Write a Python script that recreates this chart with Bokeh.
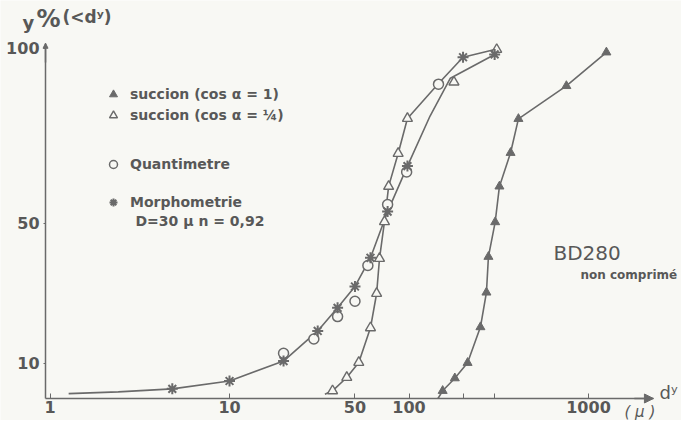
from bokeh.plotting import figure
from bokeh.models import (Range1d, FixedTicker, PrintfTickFormatter, Legend, LegendItem,
                          Label, Arrow, NormalHead)
from bokeh.embed import file_html
from bokeh.resources import INLINE

# ---------------- data ----------------
# succion (cos a = 1) : filled triangles
succ1_x = [154, 180, 212, 250, 270, 277, 302, 319, 368, 407, 753, 1258]
succ1_y = [2.2, 5.8, 10.2, 20.4, 30.3, 40.5, 50.4, 60.6, 70.2, 79.9, 89.3, 98.9]
# succion (cos a = 1/4) : open triangles
succ4_x = [37.5, 45, 52.5, 61, 66, 68.5, 73, 77, 87, 98, 178, 308]
succ4_y = [2.2, 6.0, 10.3, 20.2, 30.0, 40.0, 50.5, 60.6, 70.0, 80.0, 90.4, 99.7]
# Quantimetre : open circles
quant_x = [20, 29.5, 40, 50, 59, 76, 97, 146]
quant_y = [12.9, 17.0, 23.4, 27.8, 38.0, 55.4, 64.7, 89.8]
# Morphometrie : stars
morph_x = [4.8, 10, 20, 31, 40, 50, 61, 76, 98, 200, 300]
morph_y = [2.75, 5.0, 10.7, 19.3, 25.9, 32.0, 40.2, 53.4, 66.4, 97.5, 98.3]

# drawn curves (as traced on the picture)
curve1_x = [145] + succ1_x
curve1_y = [0.0] + succ1_y
curve4_x = [34, 37.5, 45, 52.5, 61, 66, 68.5, 73, 77, 87, 98, 146, 200, 305]
curve4_y = [1.2, 2.2, 6.0, 10.3, 20.2, 30.0, 40.0, 50.5, 60.6, 70.0, 80.0, 90.0, 97.5, 99.8]
curvem_x = [1.27, 2.4, 4.8, 10, 20, 31, 40, 50, 61, 76, 98, 131, 170, 300]
curvem_y = [1.4, 1.9, 2.75, 5.0, 10.7, 19.3, 25.9, 32.0, 40.2, 53.4, 66.4, 80.7, 91.5, 98.3]

x_ticks = [1, 10, 50, 100, 1000]
x_minor = [200, 300]
y_ticks = [10, 50, 100]

# ---------------- style ----------------
BG = "#f8f8f4"
INK = "#6a6a6a"
TXT = "#585858"
FONT = "DejaVu Sans"

X_LO, X_HI = 0.5298, 3297       # whole figure is the frame
Y_LO, Y_HI = -6.286, 113.71
X_AX, X_END = 0.9439, 2300      # where the axes start / end
Y_END = 101.5

p = figure(width=681, height=420, x_axis_type="log",
           x_range=Range1d(X_LO, X_HI), y_range=Range1d(Y_LO, Y_HI),
           output_backend="svg", toolbar_location=None,
           min_border_left=0, min_border_right=0, min_border_top=0, min_border_bottom=0,
           background_fill_color=BG, border_fill_color=BG, outline_line_color=None)
p.grid.visible = False

xa = p.xaxis[0]
xa.fixed_location = 0
xa.bounds = (X_AX, X_END)
xa.ticker = FixedTicker(ticks=x_ticks, minor_ticks=x_minor)
xa.formatter = PrintfTickFormatter(format="%d")
xa.axis_line_color = INK
xa.axis_line_width = 1.5
xa.major_tick_in = 5
xa.major_tick_out = 0
xa.minor_tick_in = 5
xa.minor_tick_out = 0
xa.major_tick_line_color = INK
xa.minor_tick_line_color = INK
xa.major_label_standoff = 3
xa.major_label_text_font = FONT
xa.major_label_text_font_size = "16px"
xa.major_label_text_font_style = "bold"
xa.major_label_text_color = TXT

ya = p.yaxis[0]
ya.fixed_location = X_AX
ya.ticker = FixedTicker(ticks=y_ticks, minor_ticks=[])
ya.bounds = (0, Y_END)
ya.axis_line_color = INK
ya.axis_line_width = 1.5
ya.major_tick_in = 0
ya.major_tick_out = 2
ya.major_tick_line_color = INK
ya.major_label_standoff = 4
ya.major_label_text_font = FONT
ya.major_label_text_font_size = "16px"
ya.major_label_text_font_style = "bold"
ya.major_label_text_color = TXT

# axis arrows
p.add_layout(Arrow(end=NormalHead(size=9, fill_color=INK, line_color=INK),
                   x_start=1800, y_start=0, x_end=X_END, y_end=0,
                   line_color=INK, line_width=1.5))
p.add_layout(Arrow(end=NormalHead(size=5, fill_color=INK, line_color=INK),
                   x_start=X_AX, y_start=96, x_end=X_AX, y_end=Y_END,
                   line_color=INK, line_width=1.5))

# curves
for cx, cy in ((curvem_x, curvem_y), (curve4_x, curve4_y), (curve1_x, curve1_y)):
    p.line(cx, cy, line_color=INK, line_width=1.6)

r1 = p.scatter(succ1_x, succ1_y, marker="triangle", size=9, fill_color=INK, line_color=INK)
r4 = p.scatter(succ4_x, succ4_y, marker="triangle", size=10, fill_color=BG,
               line_color=INK, line_width=1.4)
rq = p.scatter(quant_x, quant_y, marker="circle", size=10, fill_color=BG,
               line_color=INK, line_width=1.5)
rm = p.scatter(morph_x, morph_y, marker="asterisk", size=11, line_color=INK, line_width=2)

def make_legend(items, loc):
    lg = Legend(items=items, location=loc, background_fill_alpha=0, border_line_alpha=0,
                padding=0, margin=0, spacing=1, glyph_width=20, glyph_height=20,
                label_height=20, label_standoff=7, label_text_font=FONT,
                label_text_font_size="14px", label_text_font_style="bold",
                label_text_color=TXT)
    p.add_layout(lg)

make_legend([LegendItem(label="succion (cos α = 1)", renderers=[r1]),
             LegendItem(label="succion (cos α = ¼)", renderers=[r4])], (103, 295))
make_legend([LegendItem(label="Quantimetre", renderers=[rq])], (103, 246))
make_legend([LegendItem(label="Morphometrie", renderers=[rm])], (103, 208))

def lab(text, x, y, size, style="bold", align="left", baseline="middle"):
    p.add_layout(Label(x=x, y=y, x_units="screen", y_units="screen", text=text,
                       text_font=FONT, text_font_size=size, text_font_style=style,
                       text_color=TXT, text_align=align, text_baseline=baseline))

lab("D=30 μ    n = 0,92", 135, 200, "14px")
lab("BD280", 553, 168, "20px", "normal")
lab("non comprimé", 580, 146, "12px")
lab("( μ )", 624, 9, "15px", "italic")
lab("dʸ", 659, 28, "18px", "normal")
lab("y", 22, 398, "18px", "bold")
lab("%", 36, 402, "24px", "bold")
lab("(<dʸ)", 62, 404, "17px", "bold")

open("out.html", "w").write(file_html(p, INLINE))
